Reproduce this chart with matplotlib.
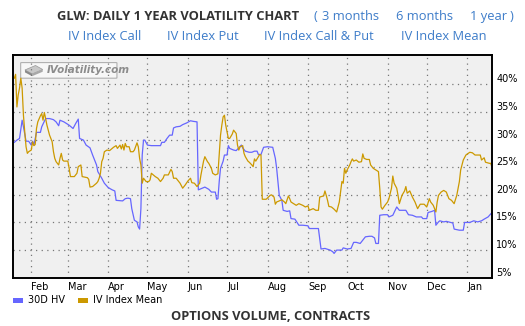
import numpy as np
import matplotlib.pyplot as plt
import matplotlib.dates as mdates
from matplotlib.patches import FancyBboxPatch, Polygon, Rectangle

# data (days counted from 2023-01-18)
start = np.datetime64('2023-01-18')

hv_days = [1, 3, 5, 7, 8, 10, 12, 14, 15, 16, 18, 21, 22, 25, 28, 31, 33, 35, 36, 39,
           41, 43, 46, 48, 50, 51, 54, 56, 59, 61, 64, 65, 68, 70, 73, 76, 78, 79, 84, 86,
           88, 90, 91, 93, 95, 96, 97, 98, 99, 100, 101, 103, 106, 113, 114, 116, 118, 120, 122, 123,
           125, 128, 130, 133, 136, 138, 141, 142, 145, 147, 150, 152, 155, 156, 157, 158, 159, 161, 162, 164,
           165, 166, 169, 171, 173, 175, 176, 178, 181, 183, 185, 187, 188, 190, 192, 195, 199, 201, 202, 203,
           204, 206, 207, 210, 212, 213, 216, 219, 222, 226, 227, 234, 235, 236, 239, 243, 245, 246, 248, 252,
           253, 256, 259, 261, 263, 266, 268, 270, 273, 275, 277, 278, 280, 281, 284, 287, 288, 291, 294, 296,
           301, 303, 306, 309, 313, 314, 317, 318, 321, 323, 324, 326, 327, 330, 332, 337, 338, 342, 345, 346,
           350, 353, 356, 359, 361, 364, 367]
hv_vals = [29.5, 29.9, 30.2, 33.5, 32.3, 29.7, 29.7, 29.0, 29.7, 29.0, 31.3, 31.3, 32.3, 33.8, 33.8, 33.6, 33.2, 32.5, 33.5, 33.2,
           32.9, 32.6, 32.0, 32.9, 33.7, 30.2, 29.9, 29.0, 28.5, 27.2, 25.4, 24.2, 23.0, 22.1, 21.3, 20.9, 20.7, 19.0, 18.9, 19.3,
           19.4, 19.3, 17.5, 15.4, 15.1, 14.2, 13.8, 17.5, 27.2, 29.9, 29.9, 29.0, 28.9, 28.9, 29.5, 29.5, 30.2, 30.8, 30.8, 32.1,
           32.3, 32.4, 32.7, 33.0, 33.4, 33.3, 33.2, 20.9, 21.2, 21.4, 21.0, 20.5, 20.5, 19.2, 19.3, 22.4, 24.8, 26.1, 27.2, 27.2,
           28.9, 28.4, 28.1, 28.0, 28.5, 29.0, 28.5, 27.9, 27.7, 27.7, 27.9, 27.9, 27.3, 27.3, 28.6, 28.7, 28.6, 26.6, 24.8, 22.4,
           19.9, 19.0, 17.2, 17.0, 17.1, 15.7, 15.6, 14.5, 14.5, 14.4, 13.9, 13.9, 12.1, 10.2, 10.3, 10.0, 9.7, 9.4, 10.0, 10.0,
           10.4, 10.2, 10.3, 11.4, 11.4, 11.2, 11.8, 12.4, 12.5, 12.5, 12.2, 11.2, 11.2, 16.3, 16.4, 16.4, 16.0, 16.3, 17.8, 17.2,
           17.2, 16.4, 16.3, 16.0, 16.0, 15.7, 15.7, 16.8, 17.0, 17.2, 14.5, 15.1, 15.3, 15.1, 15.2, 14.9, 13.8, 13.6, 13.6, 15.0,
           15.0, 15.3, 15.1, 15.3, 15.6, 16.0, 16.8]

iv_days = [1, 2, 3, 4, 5, 6, 7, 8, 9, 10, 11, 12, 14, 15, 16, 17, 18, 19, 21, 22,
           23, 24, 25, 26, 27, 28, 30, 31, 32, 33, 35, 36, 37, 38, 39, 42, 43, 44, 47, 49,
           50, 52, 53, 57, 58, 59, 61, 64, 65, 66, 67, 68, 69, 70, 72, 74, 76, 77, 79, 80,
           82, 83, 84, 85, 86, 87, 89, 90, 92, 93, 95, 96, 97, 98, 99, 100, 102, 104, 105, 106,
           109, 111, 113, 115, 116, 119, 121, 122, 123, 125, 127, 128, 130, 132, 134, 136, 137, 139, 141, 143,
           144, 145, 146, 147, 149, 150, 152, 153, 155, 157, 158, 159, 160, 161, 162, 163, 164, 165, 166, 168,
           169, 171, 172, 173, 174, 176, 177, 178, 180, 181, 183, 184, 185, 186, 188, 189, 190, 191, 194, 197,
           198, 200, 201, 202, 204, 206, 208, 209, 211, 212, 213, 215, 217, 219, 222, 224, 226, 227, 230, 232,
           234, 235, 238, 239, 240, 241, 242, 244, 246, 248, 250, 251, 252, 253, 254, 255, 256, 258, 259, 260,
           261, 263, 265, 267, 268, 269, 271, 273, 274, 276, 278, 280, 281, 282, 283, 285, 287, 288, 290, 291,
           292, 294, 295, 296, 298, 300, 301, 302, 304, 306, 308, 310, 312, 315, 317, 319, 320, 322, 324, 325,
           326, 328, 330, 332, 334, 336, 338, 340, 342, 343, 345, 347, 350, 352, 354, 358, 359, 361, 362, 365,
           366, 367]
iv_vals = [41.1, 41.8, 35.9, 38.1, 39.3, 41.1, 39.3, 34.4, 31.4, 28.7, 27.5, 27.8, 28.1, 29.6, 28.9, 29.1, 32.0, 33.2, 34.3, 34.7,
           33.5, 34.9, 33.8, 32.6, 31.7, 30.8, 29.6, 27.8, 26.6, 26.0, 25.4, 26.6, 27.5, 26.3, 26.1, 26.1, 24.8, 23.3, 23.3, 23.9,
           25.1, 25.4, 23.3, 23.1, 22.8, 21.4, 21.5, 22.1, 22.4, 23.0, 23.9, 26.0, 26.6, 27.8, 28.1, 28.0, 28.4, 28.6, 28.9, 28.4,
           29.0, 28.3, 29.1, 28.1, 29.3, 28.7, 28.7, 27.8, 27.8, 28.1, 29.4, 28.7, 26.6, 25.4, 22.1, 23.0, 22.4, 22.4, 22.7, 23.9,
           23.3, 23.0, 22.4, 23.0, 23.6, 23.6, 24.6, 24.2, 23.0, 23.0, 22.4, 22.1, 21.2, 21.8, 22.5, 23.0, 22.2, 22.1, 21.5, 22.1,
           23.6, 24.8, 26.1, 26.9, 26.0, 25.7, 24.8, 23.9, 23.6, 23.8, 27.2, 30.8, 32.6, 34.1, 34.4, 32.6, 31.4, 30.2, 30.2, 31.0,
           31.7, 31.1, 29.0, 28.1, 28.7, 28.9, 27.5, 26.9, 26.1, 25.9, 25.4, 25.1, 26.5, 26.1, 26.9, 27.3, 27.2, 19.2, 19.2, 19.9,
           20.0, 19.6, 18.3, 18.7, 18.9, 19.1, 18.7, 18.4, 19.8, 19.3, 18.7, 18.4, 18.1, 18.4, 18.1, 17.8, 18.0, 17.2, 17.5, 17.2,
           17.2, 19.6, 19.8, 20.7, 19.9, 19.0, 17.9, 17.8, 17.4, 16.9, 18.7, 20.5, 22.4, 22.1, 24.8, 23.9, 24.5, 25.4, 26.0, 26.5,
           26.1, 26.3, 25.9, 26.0, 27.4, 26.6, 26.4, 26.4, 25.4, 24.8, 24.5, 24.2, 21.2, 17.8, 17.4, 18.1, 18.7, 19.3, 21.2, 23.4,
           22.1, 21.2, 19.9, 18.4, 19.9, 20.7, 21.5, 20.3, 20.7, 19.6, 18.7, 17.5, 18.3, 18.3, 17.8, 19.3, 18.7, 18.1, 16.9, 18.7,
           19.9, 20.5, 20.8, 20.5, 19.3, 19.0, 18.4, 19.9, 22.4, 24.5, 26.3, 27.2, 27.7, 27.6, 27.2, 27.2, 26.3, 26.7, 25.9, 25.7,
           25.7, 25.0]

y_ticks = [5, 10, 15, 20, 25, 30, 35, 40]

W, H = 525, 326
fig = plt.figure(figsize=(W / 100, H / 100), dpi=100)
fig.patch.set_facecolor('white')

ax = fig.add_axes([13 / W, 1 - 278 / H, 479 / W, 223 / H])
ax.set_facecolor('#f0f0f0')

hv_dates = start + np.array(hv_days).astype('timedelta64[D]')
iv_dates = start + np.array(iv_days).astype('timedelta64[D]')
ax.plot(hv_dates, hv_vals, color='#6666ff', lw=0.9, label='30D HV')
ax.plot(iv_dates, iv_vals, color='#cc9900', lw=0.9, label='IV Index Mean')

ax.set_xlim(start, start + np.timedelta64(367, 'D'))
ax.set_ylim(4.95, 45.3)

ax.xaxis.set_major_locator(mdates.MonthLocator())
ax.xaxis.set_major_formatter(mdates.DateFormatter('%b'))
ax.tick_params(axis='x', length=0, pad=3, labelsize=7)
for t in ax.get_xticklabels():
    t.set_ha('left')

ax.yaxis.tick_right()
ax.set_yticks(y_ticks)
ax.set_yticklabels([f'{v}%' for v in y_ticks])
ax.tick_params(axis='y', length=0, pad=3, labelsize=7)
for t in ax.get_yticklabels():
    t.set_va('bottom')

ax.grid(True, color='#777777', lw=0.9, linestyle=(0, (1, 3.5)))
for s in ax.spines.values():
    s.set_linewidth(1.4)
    s.set_color('black')

# watermark
ax.add_patch(FancyBboxPatch((0.018, 0.898), 0.197, 0.066, boxstyle='round,pad=0.002',
                            transform=ax.transAxes, facecolor='#f7f7f7', edgecolor='#b0b0b0', lw=0.8))
ax.add_patch(Polygon([[0.025, 0.933], [0.047, 0.953], [0.062, 0.935], [0.040, 0.915]],
                     closed=True, transform=ax.transAxes, facecolor='#c8c8c8', edgecolor='#999999', lw=0.5))
ax.add_patch(Polygon([[0.025, 0.933], [0.040, 0.915], [0.040, 0.905], [0.025, 0.922]],
                     closed=True, transform=ax.transAxes, facecolor='#8a8a8a', lw=0))
ax.add_patch(Polygon([[0.040, 0.915], [0.062, 0.935], [0.062, 0.925], [0.040, 0.905]],
                     closed=True, transform=ax.transAxes, facecolor='#a8a8a8', lw=0))
ax.text(0.070, 0.931, 'IVolatility.com', transform=ax.transAxes, fontsize=7.5,
        style='italic', fontweight='bold', color='#8c8c8c', va='center', ha='left')

# header
def px(x, y):
    return x / W, 1 - y / H

link = '#3d7cc9'
fig.text(*px(178, 20), 'GLW: DAILY 1 YEAR VOLATILITY CHART', family='Open Sans',
         fontweight='bold', fontsize=9.3, color='#333333', ha='center', va='baseline')
for x, s in [(314, '('), (322, '3 months'), (396, '6 months'), (470, '1 year'), (510, ')')]:
    fig.text(*px(x, 20), s, family='Open Sans', fontsize=9.3, color=link, ha='left', va='baseline')
for x, s in [(68, 'IV Index Call'), (167, 'IV Index Put'), (264, 'IV Index Call & Put'), (401, 'IV Index Mean')]:
    fig.text(*px(x, 39.5), s, family='Open Sans', fontsize=9.3, color=link, ha='left', va='baseline')

# legend
for x0, c, s in [(13, '#6666ff', '30D HV'), (78, '#cc9900', 'IV Index Mean')]:
    fig.patches.append(Rectangle(px(x0, 302.5), 10 / W, 5 / H, transform=fig.transFigure,
                                 facecolor=c, edgecolor='none'))
    fig.text(*px(x0 + 15, 300), s, fontsize=7, color='black', ha='left', va='center')

fig.text(*px(271, 319.5), 'OPTIONS VOLUME, CONTRACTS', family='Open Sans',
         fontweight='bold', fontsize=9.3, color='#333333', ha='center', va='baseline')

fig.savefig('out.png', dpi=100)
